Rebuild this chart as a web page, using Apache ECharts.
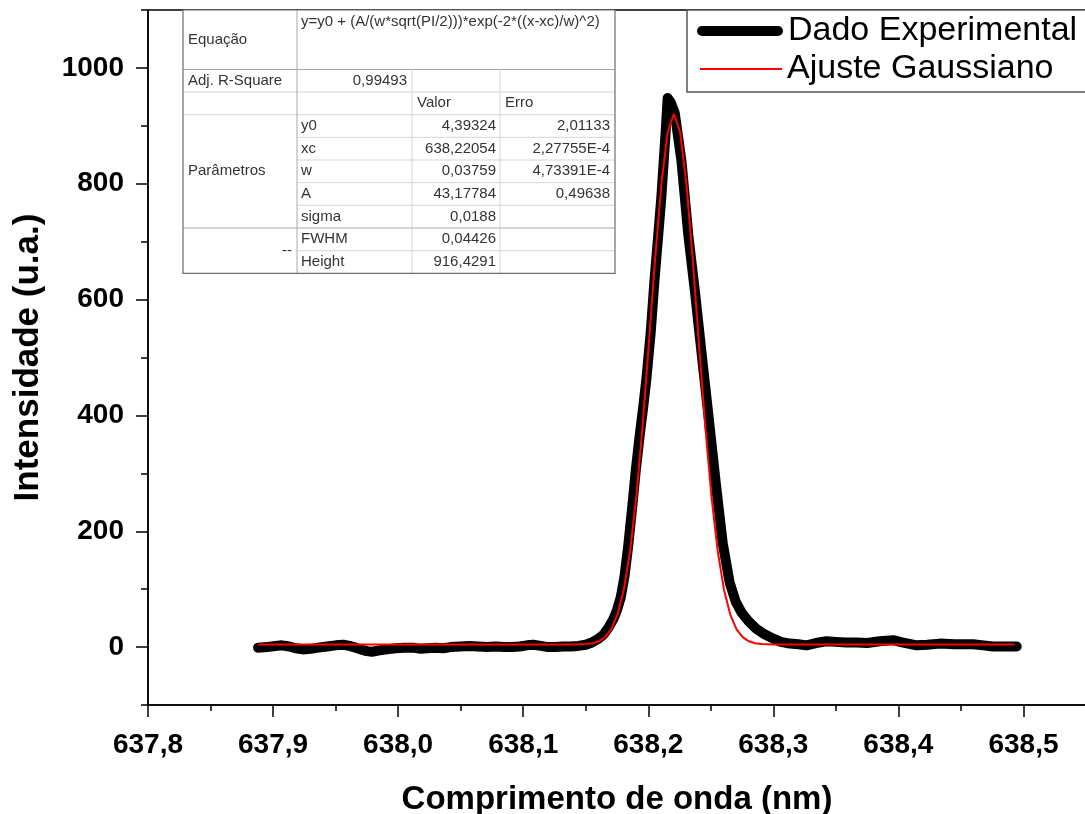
<!DOCTYPE html>
<html>
<head>
<meta charset="utf-8">
<script src="https://cdn.jsdelivr.net/npm/echarts@6/dist/echarts.min.js"></script>
<style>
html,body{margin:0;padding:0;background:#fff;}
#chart{width:1085px;height:814px;}
</style>
</head>
<body>
<div id="chart"></div>
<script>
// ---- Data ----
const expX = [637.888,637.895,637.902,637.907,637.913,637.918,637.924,637.930,637.936,637.943,637.950,637.956,637.961,637.966,637.970,637.975,637.979,637.984,637.991,637.998,638.005,638.012,638.018,638.023,638.030,638.036,638.042,638.050,638.057,638.064,638.071,638.078,638.085,638.091,638.097,638.103,638.108,638.114,638.120,638.126,638.132,638.138,638.144,638.150,638.155,638.160,638.164,638.168,638.172,638.175,638.178,638.181,638.184,638.1875,638.190,638.193,638.196,638.1986,638.202,638.205,638.2085,638.2105,638.214,638.2155,638.218,638.2212,638.2265,638.2320,638.2375,638.2430,638.2485,638.2540,638.2595,638.2650,638.2700,638.2745,638.280,638.2862,638.293,638.2995,638.306,638.3132,638.320,638.3266,638.334,638.3426,638.350,638.358,638.3666,638.375,638.385,638.3958,638.403,638.4146,638.423,638.4332,638.445,638.4598,638.468,638.4758,638.485,638.4946];
const expY = [-1,0,2,3,1,-2,-4,-3,-1,1,3,4,2,-1,-4,-7,-8,-6,-4,-2,-1,-1,-3,-2,-1,-2,0,1,2,1,0,1,0,0,1,3,4,2,0,0,1,1,2,4,8,14,21,33,48,64,86,122,175,249,305,363,415,465,545,634,725,778,893,948,940,922,840,712,610,500,392,283,180,112,78,60,45,32,22,15,9,6,5,3,7,10,9,8,8,7,10,12,8,3,4,6,5,5,3,1,1,1];

const fitX = [637.888,638.100,638.1405,638.1505,638.1555,638.1605,638.1655,638.1705,638.1755,638.1805,638.1855,638.1905,638.1955,638.2005,638.2055,638.2105,638.2155,638.2205,638.2255,638.2305,638.2355,638.2405,638.2455,638.2505,638.2555,638.2605,638.2655,638.2705,638.2755,638.2805,638.2855,638.2905,638.3005,638.493];
const fitY = [4.4,4.4,4.5,5.3,6.7,10.0,17.1,31.1,56.6,99.6,166.2,260.8,382.8,524.7,670.9,799.9,888.9,920.8,888.9,799.9,670.9,524.7,382.8,260.8,166.2,99.6,56.6,31.1,17.1,10.0,6.7,5.3,4.5,4.4];

const xMajorTicks = [637.8,637.9,638.0,638.1,638.2,638.3,638.4,638.5];
const xMinorTicks = [637.85,637.95,638.05,638.15,638.25,638.35,638.45];
const yMajorTicks = [0,200,400,600,800,1000];
const yMinorTicks = [-100,100,300,500,700,900,1100];

const seriesNames = ['Dado Experimental','Ajuste Gaussiano'];
const xAxisTitle = 'Comprimento de onda (nm)';
const yAxisTitle = 'Intensidade (u.a.)';

// fit-results table
const equationText = 'y=y0 + (A/(w*sqrt(PI/2)))*exp(-2*((x-xc)/w)^2)';
const adjR2 = '0,99493';
const paramNames = ['y0','xc','w','A','sigma'];
const paramValues = ['4,39324','638,22054','0,03759','43,17784','0,0188'];
const paramErrors = ['2,01133','2,27755E-4','4,73391E-4','0,49638',''];
const derivedNames = ['FWHM','Height'];
const derivedValues = ['0,04426','916,4291'];

// ---- Build chart ----
const FONT = '"Liberation Sans", Arial, sans-serif';
const expData = expX.map((x,i)=>[x, expY[i]]);
const fitData = fitX.map((x,i)=>[x, fitY[i]]);

// table layout
const C = [183, 297, 412, 500, 615];
const R = [10, 69.5, 92, 114.7, 137.3, 160, 182.7, 205.3, 228, 250.7, 273.3];
const TFONT = '15px ' + FONT;
const TCOL = '#333';
const tableEls = [];
tableEls.push({type:'rect', shape:{x:C[0], y:R[0], width:C[4]-C[0], height:R[10]-R[0]}, style:{fill:'#fff', stroke:'none'}, z:10});
function hline(y, x1, x2, col){ tableEls.push({type:'line', shape:{x1:x1, y1:y, x2:x2, y2:y}, style:{stroke:col, lineWidth:1}, z:11}); }
function vline(x, y1, y2, col){ tableEls.push({type:'line', shape:{x1:x, y1:y1, x2:x, y2:y2}, style:{stroke:col, lineWidth:1}, z:11}); }
function txt(s, x, y, align, va){ tableEls.push({type:'text', x:x, y:y, style:{text:s, font:TFONT, fill:TCOL, align:align, verticalAlign:va||'middle', textAlign:align, textVerticalAlign:va||'middle'}, z:12}); }
const LIGHT = '#d4d4d4', MID = '#a8a8a8';
hline(R[1], C[0], C[4], MID);
hline(R[2], C[0], C[4], LIGHT);
hline(R[3], C[0], C[4], LIGHT);
for (let k=4;k<=7;k++) hline(R[k], C[1], C[4], LIGHT);
hline(R[8], C[0], C[4], MID);
hline(R[9], C[1], C[4], LIGHT);
vline(C[1], R[0], R[10], MID);
vline(C[2], R[1], R[10], LIGHT);
vline(C[3], R[1], R[10], LIGHT);
// outer border
tableEls.push({type:'rect', shape:{x:C[0], y:R[0], width:C[4]-C[0], height:R[10]-R[0]}, style:{fill:'none', stroke:'#6e6e6e', lineWidth:1.2}, z:13});
const mid = k => (R[k]+R[k+1])/2;
txt('Equação', C[0]+5, mid(0), 'left');
txt(equationText, C[1]+4, R[0]+4, 'left', 'top');
txt('Adj. R-Square', C[0]+5, mid(1), 'left');
txt(adjR2, C[2]-5, mid(1), 'right');
txt('Valor', C[2]+5, mid(2), 'left');
txt('Erro', C[3]+5, mid(2), 'left');
txt('Parâmetros', C[0]+5, (R[3]+R[8])/2, 'left');
paramNames.forEach((n,i)=>{
  txt(n, C[1]+4, mid(3+i), 'left');
  txt(paramValues[i], C[3]-4, mid(3+i), 'right');
  if (paramErrors[i]) txt(paramErrors[i], C[4]-5, mid(3+i), 'right');
});
txt('--', C[1]-5, (R[8]+R[10])/2, 'right');
derivedNames.forEach((n,i)=>{
  txt(n, C[1]+4, mid(8+i), 'left');
  txt(derivedValues[i], C[3]-4, mid(8+i), 'right');
});
// legend frame
tableEls.push({type:'rect', shape:{x:687, y:10, width:420, height:82}, style:{fill:'#fff', stroke:'#555', lineWidth:1.5}, z:5});

const axisLineStyle = {color:'#000', width:1.5};
const chart = echarts.init(document.getElementById('chart'), null, {renderer:'canvas'});
chart.setOption({
  animation:false,
  backgroundColor:'#fff',
  grid:{left:148, top:10, right:-1, bottom:109, show:true, borderColor:'#000', borderWidth:1.5, backgroundColor:'transparent', containLabel:false, outerBoundsMode:'none'},
  legend:[
    {data:[{name:seriesNames[0], icon:'path://M5,0 H81 A5,5 0 0 1 81,10 H5 A5,5 0 0 1 5,0 Z'}], left:697, top:11, padding:0, itemWidth:86, itemHeight:10, selectedMode:false, z:20,
     textStyle:{fontSize:34, fontFamily:FONT, color:'#000', lineHeight:40}},
    {data:[{name:seriesNames[1], icon:'rect'}], left:700, top:49, padding:0, itemWidth:82, itemHeight:2, selectedMode:false, z:20,
     textStyle:{fontSize:34, fontFamily:FONT, color:'#000', lineHeight:40}}
  ],
  xAxis:[
    {type:'value', min:637.8, max:638.55, position:'bottom',
     axisLine:{onZero:false, lineStyle:axisLineStyle},
     axisTick:{customValues:xMajorTicks, length:12, lineStyle:{color:'#000', width:1.5}},
     axisLabel:{customValues:xMajorTicks, formatter:v=>v.toFixed(1).replace('.',','), fontSize:28, fontWeight:'bold', fontFamily:FONT, color:'#000', margin:26},
     splitLine:{show:false},
     name:xAxisTitle, nameLocation:'middle', nameGap:78,
     nameTextStyle:{fontSize:33, fontWeight:'bold', fontFamily:FONT, color:'#000'}},
    {type:'value', min:637.8, max:638.55, position:'bottom',
     axisLine:{show:false, onZero:false},
     axisTick:{customValues:xMinorTicks, length:6, lineStyle:{color:'#000', width:1.5}},
     axisLabel:{show:false}, splitLine:{show:false}}
  ],
  yAxis:[
    {type:'value', min:-100, max:1100, position:'left',
     axisLine:{onZero:false, lineStyle:axisLineStyle},
     axisTick:{customValues:yMajorTicks, length:12, lineStyle:{color:'#000', width:1.5}},
     axisLabel:{customValues:yMajorTicks, formatter:v=>String(v), fontSize:28, fontWeight:'bold', fontFamily:FONT, color:'#000', margin:24},
     splitLine:{show:false},
     name:yAxisTitle, nameLocation:'middle', nameGap:102,
     nameTextStyle:{fontSize:35, fontWeight:'bold', fontFamily:FONT, color:'#000'}},
    {type:'value', min:-100, max:1100, position:'left',
     axisLine:{show:false, onZero:false},
     axisTick:{customValues:yMinorTicks, length:7, lineStyle:{color:'#000', width:1.5}},
     axisLabel:{show:false}, splitLine:{show:false}}
  ],
  series:[
    {name:seriesNames[0], type:'line', data:expData, showSymbol:false, symbol:'none', smooth:false, color:'#000',
     lineStyle:{color:'#000', width:10, cap:'round', join:'round'}, z:3},
    {name:seriesNames[1], type:'line', data:fitData, showSymbol:false, symbol:'none', smooth:false, color:'#ff0000',
     lineStyle:{color:'#ff0000', width:2}, z:4}
  ],
  graphic:{elements:tableEls}
});
</script>
</body>
</html>
